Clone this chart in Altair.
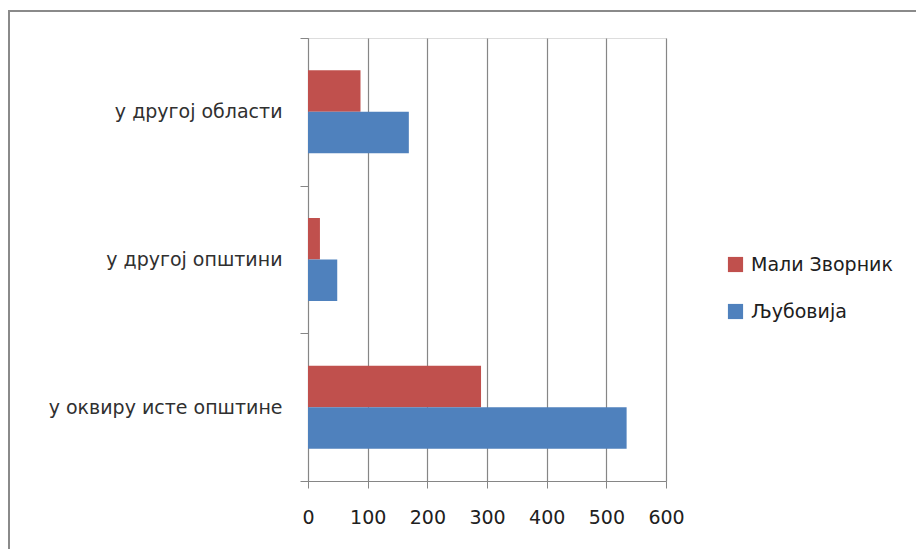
import altair as alt
import pandas as pd

categories = ["у другој области", "у другој општини", "у оквиру исте општине"]
series = ["Мали Зворник", "Љубовија"]
mali_zvornik = [88, 20, 290]
ljubovija = [169, 49, 534]
colors = ["#C0504D", "#4F81BD"]

rows = []
for i, c in enumerate(categories):
    rows.append({"cat": c, "series": series[0], "value": mali_zvornik[i]})
    rows.append({"cat": c, "series": series[1], "value": ljubovija[i]})
df = pd.DataFrame(rows)

FONT = "DejaVu Sans"
FS = 19
W, H = 358, 443

bars = alt.Chart(df).mark_bar().encode(
    y=alt.Y("cat:N", sort=categories, title=None,
            scale=alt.Scale(paddingInner=0, paddingOuter=0),
            axis=alt.Axis(tickBand="extent", tickSize=8, labelPadding=18,
                          labelFontSize=FS, labelFont=FONT, labelColor="#303030",
                          domainColor="#868686", tickColor="#868686", grid=False,
                          labelLimit=300)),
    yOffset=alt.YOffset("series:N", sort=series,
                        scale=alt.Scale(paddingInner=0, paddingOuter=0.78)),
    x=alt.X("value:Q", title=None,
            scale=alt.Scale(domain=[0, 600], nice=False),
            axis=alt.Axis(values=[0, 100, 200, 300, 400, 500, 600], tickSize=7,
                          labelPadding=20, labelFontSize=FS, labelFont=FONT,
                          labelFlush=False, labelOverlap=False,
                          labelColor="#202020", domainColor="#868686",
                          tickColor="#868686", gridColor="#868686",
                          gridWidth=1.2)),
    color=alt.Color("series:N", sort=series,
                    scale=alt.Scale(domain=series, range=colors),
                    legend=alt.Legend(title=None, orient="none", legendX=418,
                                      legendY=217, symbolType="square",
                                      symbolSize=230, symbolStrokeWidth=0,
                                      labelFontSize=FS, labelFont=FONT,
                                      labelColor="#202020", rowPadding=27,
                                      labelOffset=6)),
)

frame = alt.Chart(df).mark_rect(fill=None, stroke="#8a8a8a", strokeWidth=2).encode(
    x=alt.value(-299), x2=alt.value(700), y=alt.value(-27), y2=alt.value(700)
)

chart = alt.layer(frame, bars).properties(
    width=W, height=H,
    autosize=alt.AutoSizeParams(type="none"),
    padding={"left": 300, "top": 30, "right": 250, "bottom": 68},
).configure_view(stroke=None).configure(background="white")

chart.save("out.html", embed_options={"renderer": "svg", "actions": False})
